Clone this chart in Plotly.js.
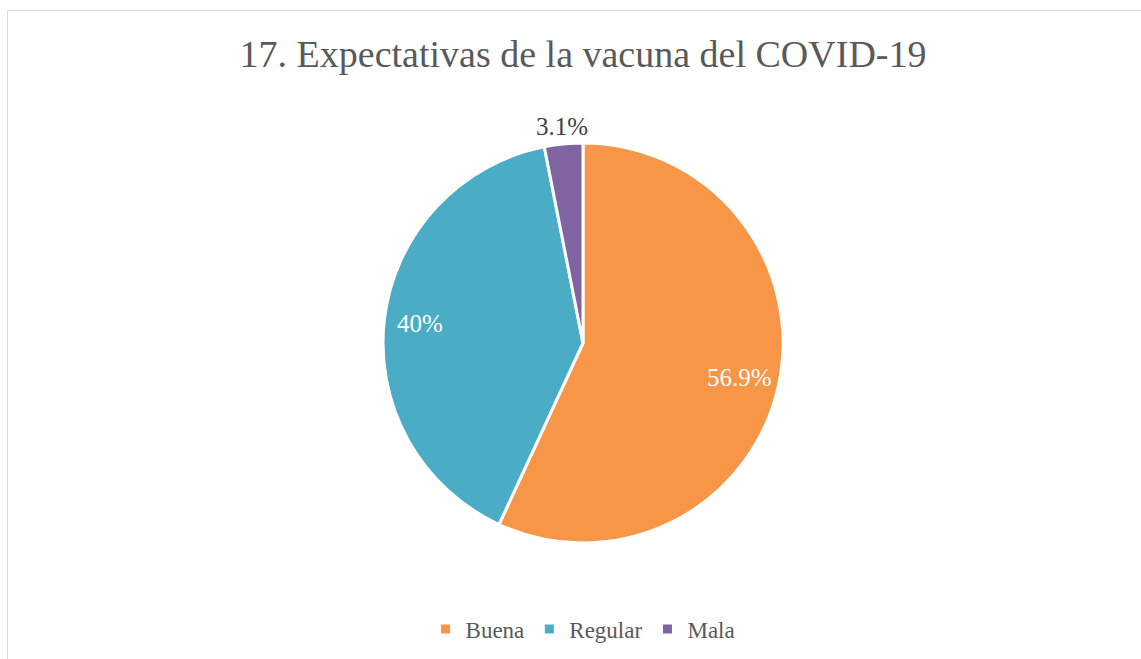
<!DOCTYPE html>
<html>
<head>
<meta charset="utf-8">
<script src="https://cdn.plot.ly/plotly-3.0.1.min.js"></script>
<style>
html,body{margin:0;padding:0;background:#fff;}
#wrap{position:relative;width:1141px;height:659px;overflow:hidden;}
#frame{position:absolute;left:7px;top:10px;width:1140px;height:660px;border:1px solid #d9d9d9;box-sizing:border-box;pointer-events:none;}
#chart{position:absolute;left:0;top:0;width:1141px;height:659px;}
</style>
</head>
<body>
<div id="wrap"><div id="chart"></div><div id="frame"></div></div>
<script>
const categories = ['Buena', 'Regular', 'Mala'];
const values = [56.9, 40, 3.1];
const colors = ['#F79646', '#4BACC6', '#8064A2'];
const labelText = values.map(v => v + '%');

const W = 1141, H = 659;
const domX = [383 / W, 783 / W];
const domY = [1 - 543 / H, 1 - 143 / H];

const trace = {
  type: 'pie',
  labels: categories,
  values: values,
  textinfo: 'none',
  sort: false,
  direction: 'clockwise',
  rotation: 0,
  marker: {colors: colors, line: {color: '#ffffff', width: 3}},
  domain: {x: domX, y: domY},
  hoverinfo: 'label+percent'
};

// data labels placed along each slice's bisector (derived from the values)
const total = values.reduce((a, b) => a + b, 0);
const cxPx = (domX[0] + domX[1]) / 2 * W;
const cyPx = (1 - (domY[0] + domY[1]) / 2) * H;
const Rpx = (domX[1] - domX[0]) * W / 2;
const radialFrac = [0.8, 0.82, 1.09];
const inside = [true, true, false];
let cum = 0;
const annotations = values.map((v, i) => {
  const mid = (cum + v / 2) / total * 2 * Math.PI;
  cum += v;
  const r = Rpx * radialFrac[i];
  const px = cxPx + r * Math.sin(mid);
  const py = cyPx - r * Math.cos(mid);
  return {
    xref: 'paper', yref: 'paper', x: px / W, y: 1 - py / H,
    xanchor: 'center', yanchor: 'middle', showarrow: false,
    text: labelText[i],
    font: {family: 'Liberation Serif', size: 25, color: inside[i] ? '#ffffff' : '#404040'}
  };
});

const layout = {
  width: W, height: H,
  margin: {l: 0, r: 0, t: 0, b: 0},
  paper_bgcolor: '#ffffff',
  title: {
    text: '17. Expectativas de la vacuna del COVID-19',
    font: {family: 'Liberation Serif', size: 38, color: '#595959'},
    x: 0.511, xanchor: 'center', y: 1 - 54 / H, yanchor: 'middle', yref: 'paper'
  },
  annotations: annotations,
  showlegend: true,
  legend: {
    orientation: 'h', x: 0.511, xanchor: 'center', y: 1 - 629 / H, yanchor: 'middle',
    font: {family: 'Liberation Serif', size: 23, color: '#595959'},
    itemwidth: 30, traceorder: 'normal'
  }
};
Plotly.newPlot('chart', [trace], layout, {displayModeBar: false, staticPlot: true});
</script>
</body>
</html>
